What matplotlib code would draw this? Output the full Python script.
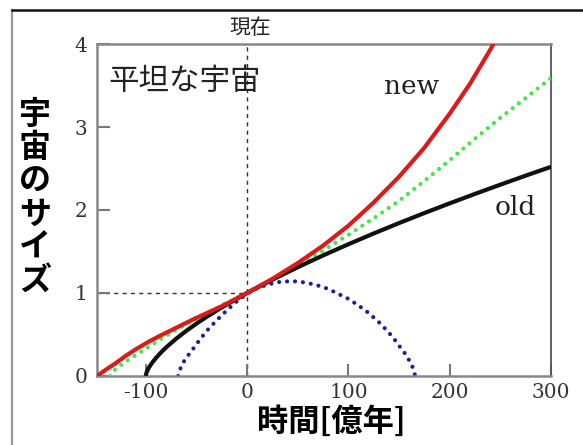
"""平坦な宇宙: 宇宙のサイズの時間変化 (old / new)."""

import matplotlib
matplotlib.use("Agg")
import matplotlib.pyplot as plt
from matplotlib.lines import Line2D


# 時間 [億年] と 宇宙のサイズ
t_red = [-148, -140, -130, -120, -110, -96, -85, -70, -50, -25, 0, 25, 50,
         75, 100, 125, 150, 175, 200, 220, 240, 244]
a_red = [0.0, 0.07, 0.15, 0.24, 0.32, 0.42, 0.49, 0.58, 0.70, 0.84, 1.0,
         1.17, 1.36, 1.57, 1.81, 2.09, 2.40, 2.75, 3.16, 3.52, 3.93, 4.02]

t_green = [-135, -133, -128, -120, -110, -96, -75, -50, -25, 0, 25, 50, 75,
           100, 125, 150, 175, 200, 225, 250, 275, 300]
a_green = [0.0, 0.045, 0.10, 0.17, 0.25, 0.36, 0.52, 0.69, 0.85, 1.0, 1.16,
           1.33, 1.51, 1.70, 1.90, 2.11, 2.35, 2.60, 2.86, 3.11, 3.35, 3.59]

t_black = [-100, -99, -97, -94, -90, -85, -80, -70, -60, -50, -40, -25, 0,
           25, 50, 75, 100, 125, 150, 175, 200, 225, 250, 275, 300]
a_black = [0.0, 0.046, 0.097, 0.153, 0.215, 0.282, 0.342, 0.448, 0.543,
           0.630, 0.711, 0.825, 1.0, 1.160, 1.310, 1.452, 1.587, 1.717,
           1.842, 1.963, 2.080, 2.194, 2.305, 2.414, 2.520]

t_blue = [-68, -67, -65, -62, -58, -53, -47, -40, -30, -20, -10, 0, 10, 20,
          30, 40, 50, 60, 70, 80, 90, 100, 110, 120, 130, 138, 145, 151, 156,
          161, 164, 166]
a_blue = [0.0, 0.05, 0.11, 0.18, 0.25, 0.33, 0.43, 0.54, 0.67, 0.79, 0.90,
          0.99, 1.06, 1.10, 1.13, 1.14, 1.14, 1.12, 1.09, 1.05, 0.99, 0.93,
          0.85, 0.76, 0.65, 0.55, 0.45, 0.35, 0.27, 0.17, 0.09, 0.0]

x_ticks = [-100, 0, 100, 200, 300]
x_ticklabels = ["-100", "0", "100", "200", "300"]
y_ticks = [0, 1, 2, 3, 4]
y_ticklabels = ["0", "1", "2", "3", "4"]

NOW_T = 0
NOW_A = 1

JP = ["Noto Sans CJK JP", "DejaVu Sans"]
SERIF = "DejaVu Serif"

fig = plt.figure(figsize=(5.83, 4.45), dpi=100)
ax = fig.add_axes([0.1664, 0.1551, 0.7787, 0.7460])

# 現在の位置 (破線)
ax.axvline(NOW_T, color="#333333", lw=1.0, ls=(0, (3, 3)), zorder=1)
ax.plot([-148, NOW_T], [NOW_A, NOW_A], color="#333333", lw=1.0,
        ls=(0, (3, 3)), zorder=1)

dots = (0, (0.01, 1.9))
ax.plot(t_blue, a_blue, color="#1e1e9c", lw=3.0, ls=dots,
        dash_capstyle="round", zorder=2)
ax.plot(t_green, a_green, color="#48e448", lw=3.0, ls=dots,
        dash_capstyle="round", zorder=3)
ax.plot(t_black, a_black, color="#111111", lw=3.0, zorder=4,
        solid_capstyle="butt")
ax.plot(t_red, a_red, color="#dd1a1a", lw=3.0, zorder=5,
        solid_capstyle="butt")

ax.set_xlim(-148, 300)
ax.set_ylim(0, 4)
ax.set_xticks(x_ticks)
ax.set_xticklabels(x_ticklabels, fontsize=14.5, family=SERIF, color="#333333")
ax.set_yticks(y_ticks)
ax.set_yticklabels(y_ticklabels, fontsize=14.5, family=SERIF, color="#333333")
ax.tick_params(direction="in", length=9, width=1.5, color="#777777")
ax.tick_params(axis="x", pad=5)
ax.tick_params(axis="y", pad=7)

for side in ["left", "bottom", "top"]:
    ax.spines[side].set_color("#888888")
    ax.spines[side].set_linewidth(1.8)
ax.spines["right"].set_color("#555555")
ax.spines["right"].set_linewidth(1.3)

ax.text(0.024, 0.886, "平坦な宇宙", transform=ax.transAxes, fontsize=22,
        family=JP, va="center", ha="left", color="#222222")
ax.text(0.694, 0.873, "new", transform=ax.transAxes, fontsize=19,
        family=SERIF, va="center", ha="center", color="#222222")
ax.text(0.921, 0.509, "old", transform=ax.transAxes, fontsize=19,
        family=SERIF, va="center", ha="center", color="#222222")

fig.text(0.4288, 0.937, "現在", fontsize=15, family=JP, ha="center",
         va="center", color="#222222")
fig.text(0.060, 0.555, "\n".join("宇宙のサイズ"), fontsize=23, family=JP,
         fontweight="bold", ha="center", va="center", linespacing=1.05)
fig.text(0.568, 0.052, "時間[億年]", fontsize=22.5, family=JP,
         fontweight="bold", ha="center", va="center")

# 外枠
fig.add_artist(Line2D([0.0206, 0.0206], [0.0, 0.9775], transform=fig.transFigure,
                      color="#999999", lw=1.6))
fig.add_artist(Line2D([0.0206, 1.0], [0.9775, 0.9775], transform=fig.transFigure,
                      color="#111111", lw=1.8))

fig.savefig("out.png", dpi=100)
